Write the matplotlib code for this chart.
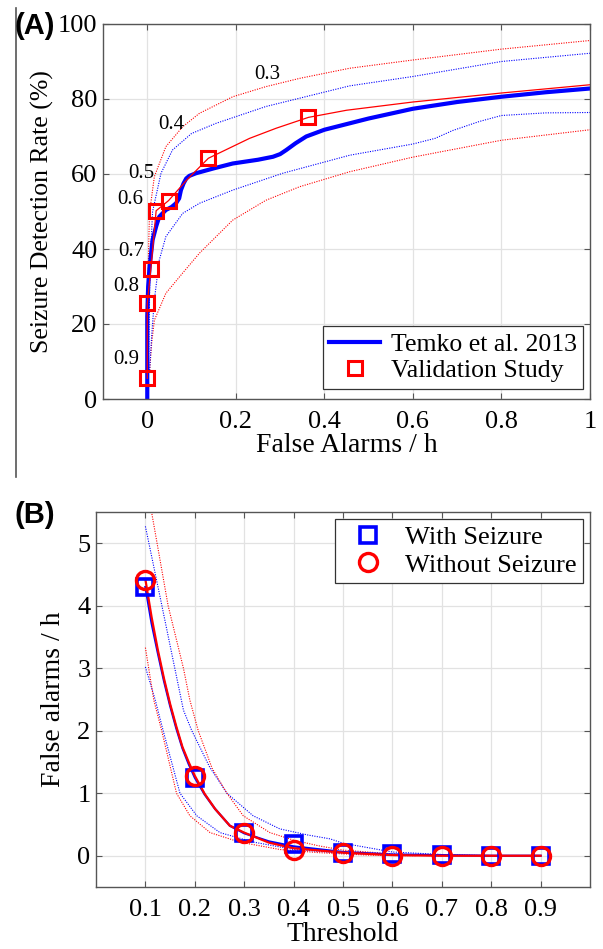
import matplotlib
matplotlib.use("Agg")
import matplotlib.pyplot as plt
from matplotlib.lines import Line2D

plt.rcParams["font.family"] = ["Liberation Serif", "DejaVu Serif"]

# ---- panel A data: detection rate vs false alarms ----
temko_x = [0, 0, 0.002, 0.005, 0.012, 0.02, 0.027, 0.042, 0.055, 0.065, 0.072, 0.076, 0.082,
           0.088, 0.095, 0.11, 0.15, 0.193, 0.25, 0.284, 0.3, 0.314, 0.335, 0.359, 0.4, 0.5,
           0.6, 0.7, 0.8, 0.9, 1.0]
temko_y = [0, 22, 30, 35, 42.4, 46, 48.6, 50.4, 51.2, 52.2, 53.5, 55.7, 57.5,
           58.8, 59.5, 60.2, 61.5, 62.8, 63.8, 64.6, 65.3, 66.4, 68.2, 70, 71.8, 74.8,
           77.4, 79.2, 80.6, 81.8, 82.8]

valid_line_x = [0, 0, 0.008, 0.02, 0.048, 0.09, 0.138, 0.231, 0.291, 0.364, 0.45, 0.6, 0.8, 1.0]
valid_line_y = [5.5, 25.5, 34.6, 50.2, 52.9, 58.5, 64.2, 69.5, 72.2, 75.1, 77, 79.2, 81.6, 83.8]

valid_x = [0, 0, 0.008, 0.02, 0.048, 0.138, 0.364]
valid_y = [5.5, 25.5, 34.6, 50.2, 52.9, 64.2, 75.1]
thresholds_a = ["0.9", "0.8", "0.7", "0.6", "0.5", "0.4", "0.3"]
label_x = [-0.047, -0.047, -0.037, -0.039, -0.014, 0.054, 0.272]
label_y = [10.4, 30.1, 39.3, 53.3, 60, 73.3, 86.4]

red_up_x = [0, 0.001, 0.003, 0.005, 0.016, 0.042, 0.08, 0.118, 0.193, 0.268, 0.344, 0.457, 0.6, 0.8, 1.0]
red_up_y = [8, 25, 40, 49.6, 59.3, 67.3, 72.6, 76.2, 80.6, 83.3, 85.5, 88.2, 90.4, 93.3, 95.6]
blue_up_x = [0.003, 0.006, 0.012, 0.031, 0.057, 0.10, 0.155, 0.268, 0.457, 0.6, 0.8, 1.0]
blue_up_y = [8, 35, 50, 60.2, 66.4, 70.8, 73.5, 78, 83.5, 86, 90, 92.2]
blue_lo_x = [0.005, 0.01, 0.016, 0.027, 0.042, 0.08, 0.118, 0.193, 0.306, 0.457, 0.6, 0.65,
             0.69, 0.75, 0.8, 0.9, 1.0]
blue_lo_y = [7, 17, 26.4, 37, 43.3, 49.5, 52.2, 55.7, 60.2, 65, 68, 69.5,
             71.6, 74, 75.6, 76.3, 76.4]
red_lo_x = [0.005, 0.01, 0.016, 0.042, 0.08, 0.118, 0.193, 0.268, 0.344, 0.457, 0.6, 0.8, 1.0]
red_lo_y = [7, 15, 21, 28.2, 33.6, 38.9, 47.7, 53, 56.6, 60.6, 64.5, 69, 71.8]

# ---- panel B data: false alarms vs threshold ----
thresholds_b = [0.1, 0.2, 0.3, 0.4, 0.5, 0.6, 0.7, 0.8, 0.9]
with_seizure = [4.3, 1.25, 0.36, 0.19, 0.05, 0.03, 0.01, 0.0, 0.0]
without_seizure = [4.42, 1.28, 0.37, 0.1, 0.05, 0.0, 0.0, 0.0, 0.0]

fit_x = [0.1, 0.1125, 0.125, 0.1375, 0.15, 0.1625, 0.175, 0.1875, 0.2, 0.22, 0.241, 0.271,
         0.3, 0.35, 0.4, 0.5, 0.6, 0.7, 0.8, 0.9]
fit_with = [4.3, 3.72, 3.25, 2.8, 2.4, 2.04, 1.72, 1.47, 1.25, 0.98, 0.75, 0.48,
            0.36, 0.23, 0.15, 0.06, 0.02, 0.01, 0, 0]
fit_without = [4.42, 3.82, 3.3, 2.84, 2.43, 2.07, 1.74, 1.5, 1.28, 0.99, 0.75, 0.48,
               0.37, 0.21, 0.12, 0.05, 0.01, 0, 0, 0]

b_blue_up_x = [0.10, 0.13, 0.16, 0.177, 0.194, 0.23, 0.265, 0.318, 0.372, 0.43, 0.474, 0.5, 0.6, 0.7, 0.8]
b_blue_up_y = [5.27, 4.13, 2.98, 2.33, 2.0, 1.42, 1.0, 0.64, 0.43, 0.33, 0.27, 0.2, 0.06, 0.02, 0.0]
b_red_up_x = [0.108, 0.146, 0.177, 0.19, 0.207, 0.235, 0.265, 0.298, 0.352, 0.40, 0.45, 0.5, 0.6, 0.7]
b_red_up_y = [5.7, 4.0, 3.0, 2.49, 2.0, 1.4, 1.0, 0.64, 0.37, 0.25, 0.16, 0.09, 0.03, 0.0]
b_blue_lo_x = [0.10, 0.12, 0.136, 0.17, 0.204, 0.251, 0.318, 0.40, 0.5, 0.6, 0.7]
b_blue_lo_y = [3.02, 2.49, 2.0, 1.0, 0.64, 0.37, 0.22, 0.1, 0.04, 0.01, 0.0]
b_red_lo_x = [0.10, 0.117, 0.133, 0.163, 0.19, 0.231, 0.29, 0.372, 0.45, 0.55, 0.65]
b_red_lo_y = [3.33, 2.49, 2.0, 1.0, 0.64, 0.37, 0.22, 0.1, 0.05, 0.01, 0.0]

BLUE = "#0000ff"
RED = "#ff0000"
FRAME = "#555555"
DOT = (0, (1, 1.2))


def style_axes(ax, fontsize):
    for sp in ax.spines.values():
        sp.set_color(FRAME)
        sp.set_linewidth(1.0)
    ax.tick_params(direction="in", top=True, right=True, length=4, width=0.8,
                   color=FRAME, labelsize=fontsize)
    ax.tick_params(axis="x", pad=9)
    ax.tick_params(axis="y", pad=4)
    ax.grid(True, color="#e2e2e2", linewidth=0.9)
    ax.set_axisbelow(True)


fig = plt.figure(figsize=(6.03, 9.49), dpi=100)

# panel A
ax1 = fig.add_axes([103 / 603, 1 - 399 / 949, 487 / 603, 375 / 949])
ax1.plot(red_up_x, red_up_y, color=RED, lw=0.8, ls=DOT)
ax1.plot(red_lo_x, red_lo_y, color=RED, lw=0.8, ls=DOT)
ax1.plot(blue_up_x, blue_up_y, color=BLUE, lw=0.8, ls=DOT)
ax1.plot(blue_lo_x, blue_lo_y, color=BLUE, lw=0.8, ls=DOT)
ax1.plot(temko_x, temko_y, color=BLUE, lw=3.0, label="Temko et al. 2013")
ax1.plot(valid_line_x, valid_line_y, color=RED, lw=0.9)
ax1.plot(valid_x, valid_y, ls="none", marker="s", ms=10, mfc="none", mec=RED, mew=2.2,
         label="Validation Study")
for t, lx, ly in zip(thresholds_a, label_x, label_y):
    ax1.text(lx, ly, t, ha="center", va="center", fontsize=15)
ax1.set_xlim(-0.1, 1.0)
ax1.set_ylim(0, 100)
ax1.set_xticks([0, 0.2, 0.4, 0.6, 0.8, 1.0])
ax1.set_xticklabels(["0", "0.2", "0.4", "0.6", "0.8", "1"])
ax1.set_yticks([0, 20, 40, 60, 80, 100])
style_axes(ax1, 19)
ax1.set_xlabel("False Alarms / h", fontsize=20, labelpad=0)
ax1.set_ylabel("Seizure Detection Rate (%)", fontsize=18.5, labelpad=3)
leg1 = ax1.legend(loc="lower right", bbox_to_anchor=(0.986, 0.027), borderaxespad=0,
                  fontsize=18.5, fancybox=False, framealpha=1, edgecolor="#333333",
                  handlelength=2.0, borderpad=0.25, labelspacing=0.15, handletextpad=0.4)
leg1.get_frame().set_linewidth(0.9)

# panel B
ax2 = fig.add_axes([96 / 603, 1 - 887 / 949, 494 / 603, 375 / 949])
ax2.plot(b_blue_up_x, b_blue_up_y, color=BLUE, lw=0.8, ls=DOT)
ax2.plot(b_blue_lo_x, b_blue_lo_y, color=BLUE, lw=0.8, ls=DOT)
ax2.plot(b_red_up_x, b_red_up_y, color=RED, lw=0.8, ls=DOT)
ax2.plot(b_red_lo_x, b_red_lo_y, color=RED, lw=0.8, ls=DOT)
ax2.plot(fit_x, fit_with, color=BLUE, lw=1.6)
ax2.plot(fit_x, fit_without, color=RED, lw=1.6)
ax2.plot(thresholds_b, with_seizure, ls="none", marker="s", ms=12, mfc="none", mec=BLUE,
         mew=2.6, label="With Seizure")
ax2.plot(thresholds_b, without_seizure, ls="none", marker="o", ms=13, mfc="none", mec=RED,
         mew=2.4, label="Without Seizure")
ax2.set_xlim(0, 1.0)
ax2.set_ylim(-0.5, 5.5)
ax2.set_xticks(thresholds_b)
ax2.set_xticklabels([f"{t:.1f}" for t in thresholds_b])
ax2.set_yticks([0, 1, 2, 3, 4, 5])
style_axes(ax2, 19)
ax2.set_xlabel("Threshold", fontsize=20, labelpad=0.5)
ax2.set_ylabel("False alarms / h", fontsize=20, labelpad=8)
leg2 = ax2.legend(loc="upper right", bbox_to_anchor=(0.986, 0.981), borderaxespad=0,
                  fontsize=19, fancybox=False, framealpha=1, edgecolor="#333333",
                  handlelength=2.0, borderpad=0.25, labelspacing=0.15, handletextpad=0.4)
leg2.get_frame().set_linewidth(0.9)

# panel letters and the stray vertical rule at the left
fig.text(15 / 603, 1 - 26 / 949, "(A)", family="Liberation Sans", weight="bold",
         fontsize=21, ha="left", va="center")
fig.text(15 / 603, 1 - 515 / 949, "(B)", family="Liberation Sans", weight="bold",
         fontsize=21, ha="left", va="center")
fig.add_artist(Line2D([16 / 603, 16 / 603], [1 - 8 / 949, 1 - 477 / 949],
                      color=FRAME, lw=1.2))

fig.savefig("out.png", dpi=100)
